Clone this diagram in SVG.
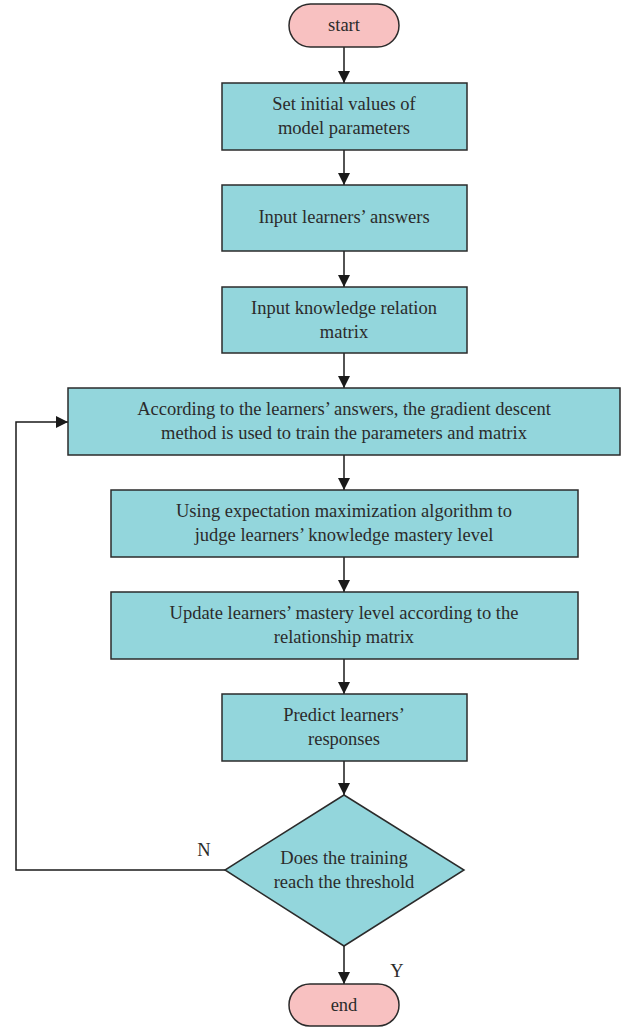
<svg xmlns="http://www.w3.org/2000/svg" width="622" height="1028" viewBox="0 0 622 1028">
<style>
.box{fill:#93D6DC;stroke:#2b2b2b;stroke-width:1.5}
.term{fill:#F8C1C1;stroke:#2b2b2b;stroke-width:1.5}
.t{font-family:"Liberation Serif",serif;font-size:18.5px;fill:#2b2b2b;text-anchor:middle}
.c{fill:none;stroke:#1a1a1a;stroke-width:1.5}
</style>
<defs>
<marker id="ah" markerWidth="12" markerHeight="12" viewBox="0 0 12 12" refX="12" refY="6" orient="auto" markerUnits="userSpaceOnUse">
<path d="M0,0 L12,6 L0,12 Z" fill="#1a1a1a"/>
</marker>
</defs>
<g id="connectors">
<line class="c" x1="344" y1="47" x2="344" y2="83" marker-end="url(#ah)"/>
<line class="c" x1="344" y1="150" x2="344" y2="185" marker-end="url(#ah)"/>
<line class="c" x1="344" y1="251" x2="344" y2="287" marker-end="url(#ah)"/>
<line class="c" x1="344" y1="353" x2="344" y2="388" marker-end="url(#ah)"/>
<line class="c" x1="344" y1="455" x2="344" y2="490" marker-end="url(#ah)"/>
<line class="c" x1="344" y1="557" x2="344" y2="592" marker-end="url(#ah)"/>
<line class="c" x1="344" y1="659" x2="344" y2="694" marker-end="url(#ah)"/>
<line class="c" x1="344" y1="761" x2="344" y2="795" marker-end="url(#ah)"/>
<line class="c" x1="344" y1="946" x2="344" y2="984" marker-end="url(#ah)"/>
<polyline class="c" points="225,870 16,870 16,422 68,422" marker-end="url(#ah)"/>
<text class="t" x="204" y="856">N</text>
<text class="t" x="397" y="977">Y</text>
</g>
<g id="start">
<rect class="term" x="289" y="4" width="110" height="43" rx="21.5"/>
<text class="t" x="344" y="31">start</text>
</g>
<g id="n1">
<rect class="box" x="222" y="83" width="245" height="67"/>
<text class="t" x="344" y="110">Set initial values of</text>
<text class="t" x="344" y="134">model parameters</text>
</g>
<g id="n2">
<rect class="box" x="222" y="185" width="245" height="66"/>
<text class="t" x="344" y="223">Input learners’ answers</text>
</g>
<g id="n3">
<rect class="box" x="222" y="287" width="245" height="66"/>
<text class="t" x="344" y="314">Input knowledge relation</text>
<text class="t" x="344" y="338">matrix</text>
</g>
<g id="n4">
<rect class="box" x="68" y="388" width="552" height="67"/>
<text class="t" x="344" y="415">According to the learners’ answers, the gradient descent</text>
<text class="t" x="344" y="439">method is used to train the parameters and matrix</text>
</g>
<g id="n5">
<rect class="box" x="111" y="490" width="467" height="67"/>
<text class="t" x="344" y="517">Using expectation maximization algorithm to</text>
<text class="t" x="344" y="541">judge learners’ knowledge mastery level</text>
</g>
<g id="n6">
<rect class="box" x="111" y="592" width="467" height="67"/>
<text class="t" x="344" y="619">Update learners’ mastery level according to the</text>
<text class="t" x="344" y="643">relationship matrix</text>
</g>
<g id="n7">
<rect class="box" x="222" y="694" width="245" height="67"/>
<text class="t" x="344" y="721">Predict learners’</text>
<text class="t" x="344" y="745">responses</text>
</g>
<g id="decision">
<polygon class="box" points="344,795 464,870 344,946 225,870"/>
<text class="t" x="344" y="864">Does the training</text>
<text class="t" x="344" y="888">reach the threshold</text>
</g>
<g id="end">
<rect class="term" x="289" y="984" width="110" height="42" rx="21"/>
<text class="t" x="344" y="1011">end</text>
</g>
</svg>
